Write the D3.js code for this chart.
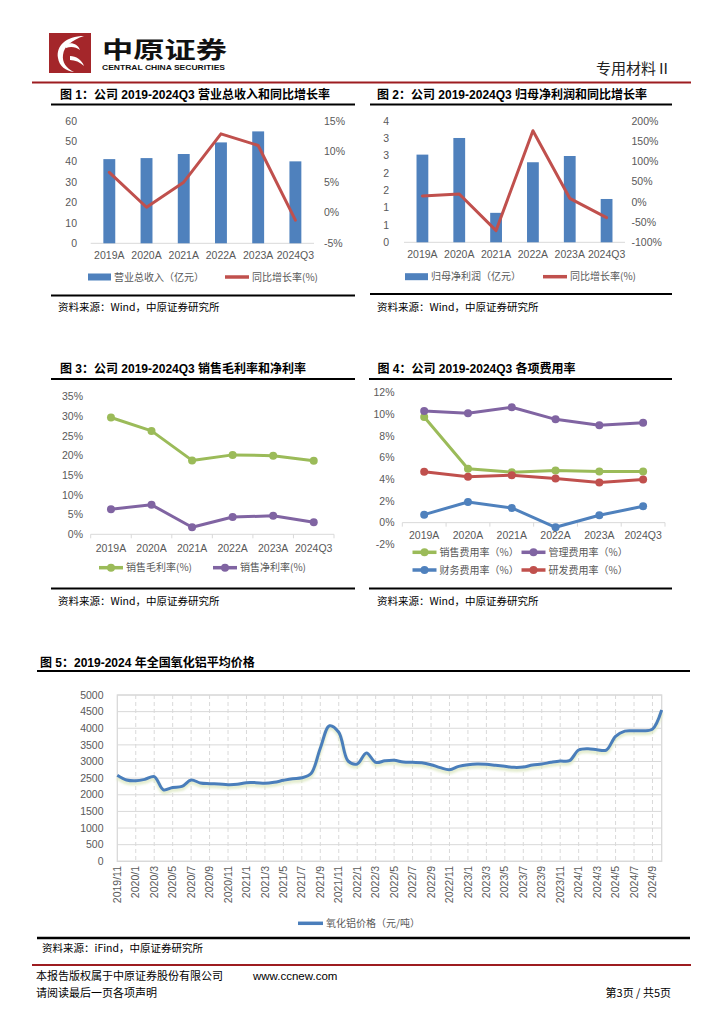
<!DOCTYPE html>
<html><head><meta charset="utf-8">
<script src="https://cdn.jsdelivr.net/npm/d3@7"></script>
<style>body{margin:0;background:#fff} svg{display:block}</style>
</head><body><svg id="c" width="724" height="1024"></svg>
<script>
// ---------- data ----------
const cats = ["2019A","2020A","2021A","2022A","2023A","2024Q3"];
const revenue = [41.3,41.8,43.8,49.5,54.9,40.2];
const revenueYoY = [6.6,0.9,5.0,12.9,11.0,-1.2];
const netProfit = [2.53,3.01,0.85,2.31,2.49,1.25];
const netProfitYoY = [14.6,19.5,-71,176,8.8,-39];
const grossMargin = [29.7,26.3,18.8,20.2,20.0,18.7];
const netMargin = [6.4,7.5,1.8,4.4,4.7,3.05];
const sellingRate = [9.75,4.97,4.66,4.81,4.72,4.72];
const adminRate = [10.3,10.1,10.65,9.54,9.0,9.23];
const financeRate = [0.74,1.91,1.36,-0.43,0.68,1.51];
const rdRate = [4.69,4.23,4.38,4.07,3.70,3.98];
const months = ["2019/11","2019/12","2020/1","2020/2","2020/3","2020/4","2020/5","2020/6","2020/7","2020/8","2020/9","2020/10","2020/11","2020/12",
"2021/1","2021/2","2021/3","2021/4","2021/5","2021/6","2021/7","2021/8","2021/9","2021/10","2021/11","2021/12",
"2022/1","2022/2","2022/3","2022/4","2022/5","2022/6","2022/7","2022/8","2022/9","2022/10","2022/11","2022/12",
"2023/1","2023/2","2023/3","2023/4","2023/5","2023/6","2023/7","2023/8","2023/9","2023/10","2023/11","2023/12",
"2024/1","2024/2","2024/3","2024/4","2024/5","2024/6","2024/7","2024/8","2024/9","2024/10"];
const aluminaPrice = [2585,2445,2420,2465,2545,2150,2220,2250,2445,2355,
2335,2325,2305,2315,2365,2365,2345,2375,2435,2485,
2510,2640,3400,4075,3880,3020,2925,3255,2975,3020,
3035,2985,2975,2965,2905,2815,2755,2855,2905,2925,
2915,2885,2855,2825,2835,2895,2925,2975,3015,3025,
3345,3385,3355,3345,3755,3915,3925,3925,3975,4550];
const monthLabels = ["2019/11","2020/1","2020/3","2020/5","2020/7","2020/9","2020/11","2021/1","2021/3","2021/5","2021/7","2021/9","2021/11",
"2022/1","2022/3","2022/5","2022/7","2022/9","2022/11","2023/1","2023/3","2023/5","2023/7","2023/9","2023/11","2024/1","2024/3","2024/5","2024/7","2024/9"];
const ticks1L = [0,10,20,30,40,50,60];
const ticks1R = [-5,0,5,10,15];
const ticks2L = [0,0.5,1,1.5,2,2.5,3,3.5];
const ticks2R = [-100,-50,0,50,100,150,200];
const ticks3 = [0,5,10,15,20,25,30,35];
const ticks4 = [-2,0,2,4,6,8,10,12];
const ticks5 = [0,500,1000,1500,2000,2500,3000,3500,4000,4500,5000];

// ---------- setup ----------
const svg = d3.select("#c");
const FONT = "'Liberation Sans','Noto Sans CJK SC',sans-serif";
const CJK = "'Noto Sans CJK SC','Liberation Sans',sans-serif";
const GREY = "#595959", AX = "#d9d9d9";
const BLUE="#4f81bd", RED="#c0504d", GREEN="#9bbb59", PURPLE="#8064a2";
svg.append("rect").attr("width",724).attr("height",1024).attr("fill","#fff");

function txt(x,y,s,o={}){
  return svg.append("text").attr("x",x).attr("y",y).text(s)
    .attr("font-family",o.ff||FONT).attr("font-size",o.fs||10.5)
    .attr("fill",o.fill||GREY).attr("text-anchor",o.anchor||"start")
    .attr("font-weight",o.fw||"normal");
}
function rule(x1,x2,y,c="#000",w=2){
  svg.append("line").attr("x1",x1).attr("x2",x2).attr("y1",y).attr("y2",y).attr("stroke",c).attr("stroke-width",w);
}
function title(x,y,s,rx1,rx2,ry){
  txt(x,y,s,{fs:12,fw:"bold",fill:"#000"});
  rule(rx1,rx2,ry,"#000",2);
}
function source(x,y,s){ txt(x,y,s,{fs:10.5,fill:"#000",ff:CJK}); }

// ---------- header ----------
const logo = svg.append("g");
logo.append("rect").attr("x",49).attr("y",33).attr("width",42).attr("height",40).attr("fill","#a4262a");
logo.append("path").attr("d","M84,36 C66,36 56,46 58,58 C59,66 66,71 74,72 C66,68 62,62 63,55 C64,46 72,40 84,36 Z").attr("fill","#fff");
logo.append("path").attr("d","M66,44 C72,42 78,44 80,50 C76,47 71,46 66,48 Z").attr("fill","#fff");
logo.append("path").attr("d","M70,56 C76,56 82,60 84,66 C80,62 75,60 70,60 Z").attr("fill","#fff");
txt(102,58,"中原证券",{fs:23,fw:"bold",fill:"#111",ff:CJK}).attr("textLength",125).attr("lengthAdjust","spacingAndGlyphs");
txt(102,70,"CENTRAL CHINA SECURITIES",{fs:7.5,fw:"bold",fill:"#111"}).attr("textLength",123).attr("lengthAdjust","spacingAndGlyphs");
txt(671,74,"专用材料Ⅱ",{fs:15,fill:"#222",anchor:"end",ff:CJK});
rule(32,691,82.5,"#9d1c20",2);

// ---------- shared helpers ----------
function catLabels(x,y){
  cats.forEach(c=>txt(x(c)+x.bandwidth()/2,y,c,{anchor:"middle"}));
}
function axisLine(x0,x1,y,xs,tick){
  rule(x0,x1,y,AX,1);
  if(tick){
    const st = (x1-x0)/cats.length;
    for(let i=0;i<=cats.length;i++){
      svg.append("line").attr("x1",x0+i*st).attr("x2",x0+i*st).attr("y1",y).attr("y2",y+4).attr("stroke",AX);
    }
  }
}
function legLine(x,y,color,label,marker){
  svg.append("line").attr("x1",x).attr("x2",x+24).attr("y1",y).attr("y2",y).attr("stroke",color).attr("stroke-width",3.5);
  if(marker) svg.append("circle").attr("cx",x+12).attr("cy",y).attr("r",4).attr("fill",color);
  txt(x+27,y+3.6,label,{fs:10,ff:CJK});
}
function legBar(x,y,color,label){
  svg.append("rect").attr("x",x).attr("y",y-3.5).attr("width",23).attr("height",7).attr("fill",color);
  txt(x+26,y+3.6,label,{fs:10,ff:CJK});
}
function lineSeries(x,y,vals,color,marker){
  const ln = d3.line().x((d,i)=>x(cats[i])+x.bandwidth()/2).y(d=>y(d));
  svg.append("path").attr("d",ln(vals)).attr("fill","none").attr("stroke",color).attr("stroke-width",3).attr("stroke-linejoin","round").attr("stroke-linecap","round");
  if(marker) vals.forEach((v,i)=>svg.append("circle").attr("cx",x(cats[i])+x.bandwidth()/2).attr("cy",y(v)).attr("r",4).attr("fill",color));
}

// ---------- chart 1 ----------
title(60,99,"图 1：公司 2019-2024Q3 营业总收入和同比增长率",51,355,104.5);
{
  const x = d3.scaleBand().domain(cats).range([90.7,314]).paddingInner(0.68).paddingOuter(0.34);
  const xc = d3.scaleBand().domain(cats).range([90.7,314]);
  const yL = d3.scaleLinear().domain([0,60]).range([243.3,121]);
  const yR = d3.scaleLinear().domain([-5,15]).range([243.3,121]);
  axisLine(90.7,314,yL(0),xc,false);
  ticks1L.forEach(t=>txt(77,yL(t)+3.7,t,{anchor:"end"}));
  ticks1R.forEach(t=>txt(324,yR(t)+3.7,t+"%"));
  svg.selectAll(null).data(revenue).enter().append("rect")
    .attr("x",(d,i)=>x(cats[i])).attr("width",x.bandwidth())
    .attr("y",d=>yL(d)).attr("height",d=>yL(0)-yL(d)).attr("fill",BLUE);
  lineSeries(xc,yR,revenueYoY,RED,false);
  catLabels(xc,259);
  legBar(88,277,BLUE,"营业总收入（亿元）");
  legLine(225,277,RED,"同比增长率(%)");
}
rule(51,355,295.5,"#000",2);
source(58,311,"资料来源：Wind，中原证券研究所");

// ---------- chart 2 ----------
title(377,99,"图 2：公司 2019-2024Q3 归母净利润和同比增长率",370,672,104.5);
{
  const x = d3.scaleBand().domain(cats).range([404,625]).paddingInner(0.68).paddingOuter(0.34);
  const xc = d3.scaleBand().domain(cats).range([404,625]);
  const yL = d3.scaleLinear().domain([0,3.5]).range([242.3,121]);
  const yR = d3.scaleLinear().domain([-100,200]).range([242.3,121]);
  axisLine(404,625,yL(0),xc,false);
  ticks2L.forEach(t=>txt(389,yL(t)+3.7,Math.round(t),{anchor:"end"}));
  ticks2R.forEach(t=>txt(631.5,yR(t)+3.7,t+"%"));
  svg.selectAll(null).data(netProfit).enter().append("rect")
    .attr("x",(d,i)=>x(cats[i])).attr("width",x.bandwidth())
    .attr("y",d=>yL(d)).attr("height",d=>yL(0)-yL(d)).attr("fill",BLUE);
  lineSeries(xc,yR,netProfitYoY,RED,false);
  catLabels(xc,258);
  legBar(405,276.7,BLUE,"归母净利润（亿元）");
  legLine(543,276.7,RED,"同比增长率(%)");
}
rule(370,672,294,"#000",2);
source(377,311,"资料来源：Wind，中原证券研究所");

// ---------- chart 3 ----------
title(60,373,"图 3：公司 2019-2024Q3 销售毛利率和净利率",51,355,379);
{
  const x = d3.scaleBand().domain(cats).range([90.7,334]);
  const y = d3.scaleLinear().domain([0,35]).range([534.3,396.7]);
  axisLine(90.7,334,y(0),x,true);
  ticks3.forEach(t=>txt(83,y(t)+3.7,t+"%",{anchor:"end"}));
  lineSeries(x,y,grossMargin,GREEN,true);
  lineSeries(x,y,netMargin,PURPLE,true);
  catLabels(x,551.5);
  legLine(99,567.7,GREEN,"销售毛利率(%)",true);
  legLine(213,567.7,PURPLE,"销售净利率(%)",true);
}
rule(51,355,588.5,"#000",2);
source(58,605,"资料来源：Wind，中原证券研究所");

// ---------- chart 4 ----------
title(377.5,373,"图 4：公司 2019-2024Q3 各项费用率",369,672,379);
{
  const x = d3.scaleBand().domain(cats).range([402.3,665]);
  const y = d3.scaleLinear().domain([-2,12]).range([544.3,392.7]);
  axisLine(402.3,665,y(0),x,true);
  ticks4.forEach(t=>txt(394.5,y(t)+3.7,t+"%",{anchor:"end"}));
  lineSeries(x,y,sellingRate,GREEN,true);
  lineSeries(x,y,adminRate,PURPLE,true);
  lineSeries(x,y,financeRate,BLUE,true);
  lineSeries(x,y,rdRate,RED,true);
  catLabels(x,538.5);
  legLine(412.5,552.3,GREEN,"销售费用率（%）",true);
  legLine(521.5,552.3,PURPLE,"管理费用率（%）",true);
  legLine(412.5,570,BLUE,"财务费用率（%）",true);
  legLine(521.5,570,RED,"研发费用率（%）",true);
}
rule(369,672,588.5,"#000",2);
source(377,605,"资料来源：Wind，中原证券研究所");

// ---------- chart 5 ----------
title(40,667,"图 5：2019-2024 年全国氧化铝平均价格",37,690,671);
{
  const x = d3.scalePoint().domain(months).range([117.3,661.7]);
  const y = d3.scaleLinear().domain([0,5000]).range([861.3,695]);
  ticks5.forEach(t=>{
    rule(117.3,661.7,y(t),AX,1);
    txt(103.5,y(t)+3.7,t,{anchor:"end"});
  });
  monthLabels.forEach((m,i)=>{
    const xx = x(m);
    if(i>0) svg.append("line").attr("x1",xx).attr("x2",xx).attr("y1",695).attr("y2",861.3)
      .attr("stroke",AX).attr("stroke-dasharray","4,3");
    svg.append("text").attr("transform",`translate(${xx+3.6},866) rotate(-90)`)
      .attr("text-anchor","end").attr("font-family",FONT).attr("font-size",10.5).attr("fill",GREY).text(m);
  });
  svg.append("rect").attr("x",117.3).attr("y",695).attr("width",661.7-117.3).attr("height",861.3-695)
    .attr("fill","none").attr("stroke",AX).attr("stroke-width",1.3);
  const defs = svg.append("defs");
  defs.append("filter").attr("id","glow").attr("x","-5%").attr("y","-20%").attr("width","110%").attr("height","140%")
    .append("feGaussianBlur").attr("stdDeviation",1.2);
  const ln = d3.line().x((d,i)=>x(months[i])).y(d=>y(d)).curve(d3.curveCatmullRom.alpha(0.5));
  svg.append("path").attr("d",ln(aluminaPrice)).attr("fill","none").attr("stroke","#dde8c2")
    .attr("stroke-width",4).attr("opacity",0.8).attr("transform","translate(0,2.5)").attr("filter","url(#glow)");
  svg.append("path").attr("d",ln(aluminaPrice)).attr("fill","none").attr("stroke","#4a7ebb")
    .attr("stroke-width",3).attr("stroke-linejoin","round");
  svg.append("line").attr("x1",298).attr("x2",323).attr("y1",923.3).attr("y2",923.3).attr("stroke","#4a7ebb").attr("stroke-width",3.5);
  txt(326,927,"氧化铝价格（元/吨）",{fs:10,ff:CJK});
}
rule(37,690,938,"#000",2.5);
source(42,952,"资料来源：iFind，中原证券研究所");

// ---------- footer ----------
rule(32,691,965,"#9d1c20",2);
txt(36,980,"本报告版权属于中原证券股份有限公司",{fs:11,fill:"#000",ff:CJK});
txt(253,980,"www.ccnew.com",{fs:11.5,fill:"#000"});
txt(36,997,"请阅读最后一页各项声明",{fs:11,fill:"#000",ff:CJK});
txt(671,997,"第3页 / 共5页",{fs:11,fill:"#000",anchor:"end",ff:CJK});
</script></body></html>
